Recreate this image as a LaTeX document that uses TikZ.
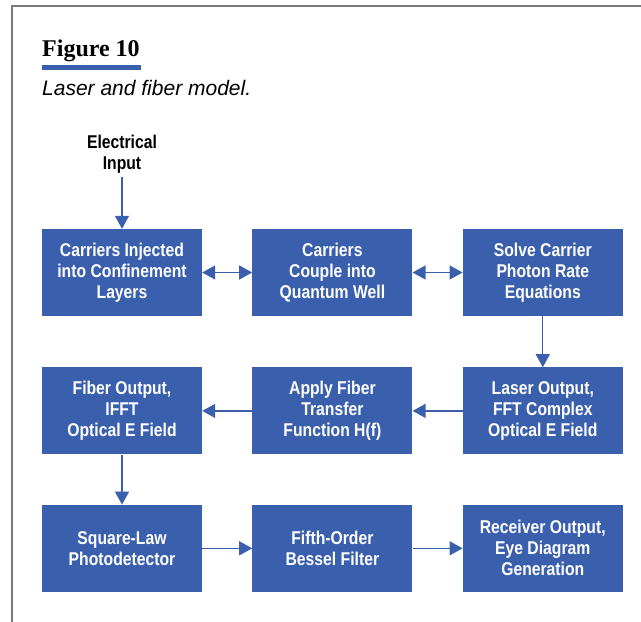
\documentclass[tikz,border=0pt]{standalone}
\usepackage{fontspec}
\setmainfont{Liberation Sans}
\newfontfamily\boxfont[FakeStretch=0.85]{Liberation Sans}
\newfontfamily\titlefont{Liberation Serif}
\usepackage{xcolor}
\usetikzlibrary{arrows.meta,positioning}
\definecolor{hpblue}{HTML}{3A5FAD}
\definecolor{framegray}{HTML}{7A7A7A}

\begin{document}
\begin{tikzpicture}[
  x=1pt,y=-1pt,
  node distance=51pt and 50pt,
  blk/.style={fill=hpblue,text=white,minimum width=160pt,minimum height=87pt,inner sep=0pt,align=center,
    font=\boxfont\bfseries\fontsize{18.5}{21}\selectfont},
  lbl/.style={align=center,font=\boxfont\bfseries\fontsize{18.5}{21}\selectfont},
  tip/.tip={Triangle[length=13pt,width=14pt]},
  arr/.style={-tip,color=hpblue,line width=1.3pt},
  darr/.style={tip-tip,color=hpblue,line width=1.3pt}
]
  \useasboundingbox (0,0) rectangle (641,622);
  \draw[framegray,line width=1.5pt] (641,6) -- (12,6) -- (12,622);

  % heading
  \node[anchor=base west,inner sep=0pt,font=\titlefont\bfseries\fontsize{24}{28}\selectfont] (fig) at (42,56) {Figure 10};
  \node[anchor=north west,fill=hpblue,minimum width=99pt,minimum height=5pt,inner sep=0pt] (bar) at (42,65) {};
  \node[anchor=base west,inner sep=0pt,font=\itshape\fontsize{21}{25}\selectfont] (cap) at (42,95) {Laser and fiber model.};

  \node[lbl,anchor=south,inner sep=3pt] (in) at (122,177) {Electrical\\Input};

  % blocks
  \node[blk] (inj) at (122,272.5) {Carriers Injected\\into Confinement\\Layers};
  \node[blk, right=of inj] (qw) {Carriers\\Couple into\\Quantum Well};
  \node[blk, right=of qw] (rate) {Solve Carrier\\Photon Rate\\Equations};
  \node[blk, below=of rate] (fft) {Laser Output,\\FFT Complex\\Optical E Field};
  \node[blk, below=of qw] (xfer) {Apply Fiber\\Transfer\\Function H(f)};
  \node[blk, below=of inj] (ifft) {Fiber Output,\\IFFT\\Optical E Field};
  \node[blk, below=50pt of ifft] (pd) {Square-Law\\Photodetector};
  \node[blk, right=of pd] (bessel) {Fifth-Order\\Bessel Filter};
  \node[blk, right=of bessel] (eye) {Receiver Output,\\Eye Diagram\\Generation};

  \draw[arr] (in) -- (inj);
  \draw[darr] (inj) -- (qw);
  \draw[darr] (qw) -- (rate);
  \foreach \a/\b in {rate/fft,fft/xfer,xfer/ifft,ifft/pd,pd/bessel,bessel/eye} {
    \draw[arr] (\a) -- (\b);
  }
\end{tikzpicture}
\end{document}
